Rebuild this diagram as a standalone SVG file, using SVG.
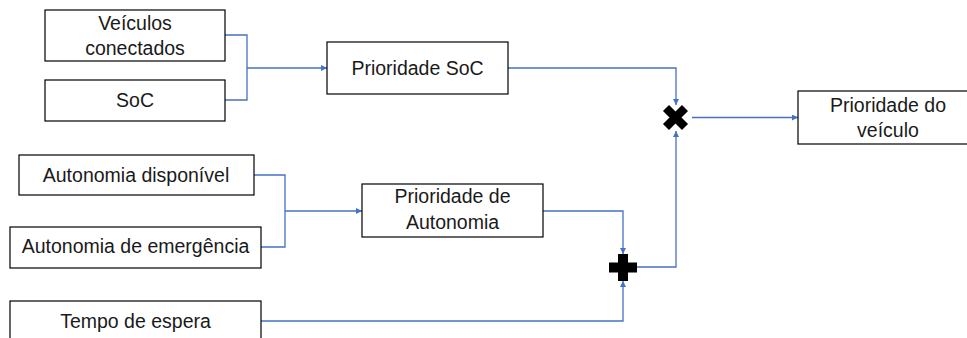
<svg xmlns="http://www.w3.org/2000/svg" width="967" height="338" viewBox="0 0 967 338">
  <style>
    .box { fill: #ffffff; stroke: #000000; stroke-width: 1.2; }
    .lbl { font-family: "Liberation Sans", Arial, sans-serif; font-size: 19.5px; fill: #1a1a1a; text-anchor: middle; }
    .con { fill: none; stroke: #4472C4; stroke-width: 1.3; }
    .arr { marker-end: url(#ah); }
    .op { fill: #000000; }
    .opx { fill: none; stroke: #000000; stroke-width: 8.5; stroke-linecap: butt; }
  </style>
  <defs>
    <marker id="ah" viewBox="0 0 10 10" refX="10" refY="5" markerWidth="6" markerHeight="6" markerUnits="userSpaceOnUse" orient="auto">
      <path d="M0,0 L10,5 L0,10 z" fill="#4472C4"/>
    </marker>
  </defs>
  <rect width="967" height="338" fill="#ffffff"/>

  <g id="connectors">
    <path class="con" d="M225,35 H247 V100 H225"/>
    <path class="con arr" d="M247,68 H327"/>
    <path class="con arr" d="M508,68 H676 V105"/>
    <path class="con" d="M254,175 H285 V247 H261"/>
    <path class="con arr" d="M285,211 H362"/>
    <path class="con arr" d="M543,211 H623 V254"/>
    <path class="con arr" d="M261,321 H623 V281"/>
    <path class="con arr" d="M637,267 H676 V131"/>
    <path class="con arr" d="M692,117.5 H798"/>
  </g>

  <g id="n-veiculos">
    <rect class="box" x="45" y="10" width="180" height="51"/>
    <text class="lbl" x="135" y="30">Veículos</text>
    <text class="lbl" x="135" y="55">conectados</text>
  </g>
  <g id="n-soc">
    <rect class="box" x="45" y="80" width="180" height="41"/>
    <text class="lbl" x="135" y="107">SoC</text>
  </g>
  <g id="n-prioridade-soc">
    <rect class="box" x="327" y="42" width="181" height="52"/>
    <text class="lbl" x="417.5" y="75">Prioridade SoC</text>
  </g>
  <g id="n-mult">
    <path class="opx" d="M666,108 L685,127 M685,108 L666,127"/>
  </g>
  <g id="n-prioridade-veiculo">
    <rect class="box" x="798" y="91" width="181" height="53"/>
    <text class="lbl" x="888" y="112">Prioridade do</text>
    <text class="lbl" x="888" y="137">veículo</text>
  </g>
  <g id="n-autonomia-disp">
    <rect class="box" x="19" y="155" width="235" height="40"/>
    <text class="lbl" x="136" y="182">Autonomia disponível</text>
  </g>
  <g id="n-autonomia-emerg">
    <rect class="box" x="10" y="227" width="251" height="41"/>
    <text class="lbl" x="135.5" y="253">Autonomia de emergência</text>
  </g>
  <g id="n-prioridade-autonomia">
    <rect class="box" x="362" y="184" width="181" height="53"/>
    <text class="lbl" x="452.5" y="203">Prioridade de</text>
    <text class="lbl" x="452.5" y="229">Autonomia</text>
  </g>
  <g id="n-soma">
    <path class="op" d="M618,254 H628 V262.5 H637 V272.5 H628 V281 H618 V272.5 H609 V262.5 H618 Z"/>
  </g>
  <g id="n-tempo">
    <rect class="box" x="10" y="301" width="251" height="45"/>
    <text class="lbl" x="135.5" y="328">Tempo de espera</text>
  </g>
</svg>
